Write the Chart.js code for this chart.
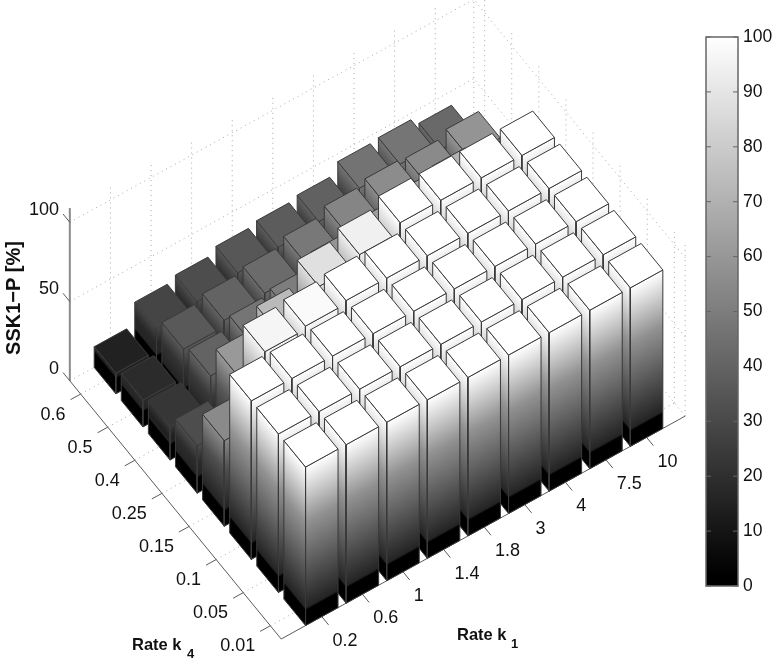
<!DOCTYPE html>
<html lang="en">
<head>
    <meta charset="UTF-8">
    <title>SSK1-P versus rates k1 and k4</title>
    <script src="https://cdn.jsdelivr.net/npm/chart.js"></script>
    <style>
        body { margin: 0; background: #fff; }
        #stage { position: relative; width: 774px; height: 660px; overflow: hidden; }
        #barChart { position: absolute; left: 0; top: 0; }
        #colorbar { position: absolute; left: 690px; top: 0; }
    </style>
</head>
<body>
    <div id="stage">
        <canvas id="barChart" width="774" height="660"></canvas>
        <canvas id="colorbar" width="84" height="660"></canvas>
    </div>
    <script>
        const k1Labels = ['0.2', '0.6', '1', '1.4', '1.8', '3', '4', '7.5', '10'];
        const k4Labels = ['0.01', '0.05', '0.1', '0.15', '0.25', '0.4', '0.5', '0.6'];
        const zTicks = [0, 50, 100];

        // one row per k4 rate, left to right along k1
        const sskAtK4_001 = [100, 100, 100, 100, 100, 100, 100, 100, 100];
        const sskAtK4_005 = [100, 100, 100, 100, 100, 100, 100, 100, 100];
        const sskAtK4_01 = [100, 100, 100, 100, 100, 100, 100, 100, 100];
        const sskAtK4_015 = [54, 96, 98, 100, 100, 100, 100, 100, 100];
        const sskAtK4_025 = [30, 60, 73, 88, 94, 100, 100, 100, 100];
        const sskAtK4_04 = [21, 39, 46, 49, 58, 62, 66, 70, 62];
        const sskAtK4_05 = [17, 35, 39, 42, 47, 52, 55, 54, 58];
        const sskAtK4_06 = [13, 27, 30, 34, 36, 38, 45, 46, 41];
        const sskRows = [sskAtK4_001, sskAtK4_005, sskAtK4_01, sskAtK4_015,
            sskAtK4_025, sskAtK4_04, sskAtK4_05, sskAtK4_06];

        // oblique view of the box, in units of the page-sized plane scales
        const view = { ox: 281.2, oy: 639, ix: 40.6, iy: -22.4, jx: -27.1, jy: -33.1, zy: -1.585 };
        const iMax = 9.95, jMax = 7.8, zTop = 109;
        const barSize = 0.8;

        function project(i, j, z) {
            return {
                x: view.ox + i * view.ix + j * view.jx,
                y: view.oy + i * view.iy + j * view.jy + z * view.zy
            };
        }

        function gray(v) {
            const g = Math.round(Math.min(100, Math.max(0, v)) * 2.55);
            return 'rgb(' + g + ',' + g + ',' + g + ')';
        }

        // side faces run black at the floor up to the bar's own level; bands stay parallel to the floor edge
        function sideGradient(chart, from, along, value) {
            const sx = chart.scales.x, sy = chart.scales.y;
            const a = { x: sx.getPixelForValue(from.x), y: sy.getPixelForValue(from.y) };
            const b = { x: sx.getPixelForValue(from.x + along.x), y: sy.getPixelForValue(from.y + along.y) };
            const top = sy.getPixelForValue(from.y + value * view.zy);
            // options get resolved once before the layout has sized the scales
            if (!Number.isFinite(a.x + a.y + b.x + b.y + top)) return gray(value);
            const ex = b.x - a.x, ey = b.y - a.y;
            const nx = ey, ny = -ex;
            const t = ((top - a.y) * ny) / (nx * nx + ny * ny);
            const g = chart.ctx.createLinearGradient(a.x, a.y, a.x + t * nx, a.y + t * ny);
            g.addColorStop(0, '#000');
            g.addColorStop(Math.min(1, 9.5 / value), '#000');
            g.addColorStop(Math.min(1, 11 / value), gray(Math.min(value, 14)));
            // the faces sit a little under the colormap through the middle of the bar
            if (value > 20) g.addColorStop(0.65, gray(value * 0.57));
            g.addColorStop(1, gray(value));
            return g;
        }

        function polygon(points, fillColor) {
            return {
                data: points.concat([points[0]]),
                fill: 'shape',
                backgroundColor: fillColor,
                borderColor: '#3a3a3a',
                borderWidth: 1,
                borderJoinStyle: 'round',
                pointRadius: 0,
                tension: 0,
                clip: false
            };
        }

        function stroke(points, color, width, dash) {
            return {
                data: points,
                fill: false,
                borderColor: color,
                borderWidth: width,
                borderDash: dash || [],
                pointRadius: 0,
                tension: 0,
                clip: false
            };
        }

        function gridLines() {
            const out = [];
            const dotted = (a, b) => out.push(stroke([a, b], '#a8a8a8', 1, [1, 4]));
            zTicks.forEach((z) => {
                dotted(project(0, jMax, z), project(iMax, jMax, z));
                dotted(project(iMax, 0, z), project(iMax, jMax, z));
            });
            k1Labels.forEach((_, n) => {
                dotted(project(n + 1, 0, 0), project(n + 1, jMax, 0));
                dotted(project(n + 1, jMax, 0), project(n + 1, jMax, zTop));
            });
            k4Labels.forEach((_, n) => {
                dotted(project(0, n + 0.4, 0), project(iMax, n + 0.4, 0));
                dotted(project(iMax, n + 0.4, 0), project(iMax, n + 0.4, zTop));
            });
            dotted(project(iMax, jMax, 0), project(iMax, jMax, zTop));
            dotted(project(iMax, 0, 0), project(iMax, 0, zTop));
            return out;
        }

        function axisLines() {
            const out = [];
            const line = '#5a5a5a';
            out.push(stroke([project(0, jMax, 0), project(0, 0, 0), project(iMax, 0, 0)], line, 1));
            out.push(stroke([project(0, jMax, 0), project(0, jMax, zTop)], '#8a8a8a', 2));
            k1Labels.forEach((_, n) => {
                out.push(stroke([project(n + 1, 0, 0), project(n + 1, -0.25, 0)], line, 1));
            });
            k4Labels.forEach((_, n) => {
                out.push(stroke([project(0, n + 0.4, 0), project(-0.25, n + 0.4, 0)], line, 1));
            });
            zTicks.forEach((z) => {
                out.push(stroke([project(0, jMax, z), project(0, jMax + 0.25, z)], line, 1));
            });
            return out;
        }

        function barFaces() {
            const out = [];
            // far bars first so that nearer ones paint over them
            for (let j = sskRows.length - 1; j >= 0; j--) {
                for (let i = sskRows[j].length - 1; i >= 0; i--) {
                    const v = sskRows[j][i];
                    const i0 = i + 1 - barSize / 2, i1 = i0 + barSize;
                    const j0 = j, j1 = j + barSize;
                    const front = project(i0, j0, 0), left = project(i0, j1, 0), right = project(i1, j0, 0);
                    out.push(polygon([front, left, project(i0, j1, v), project(i0, j0, v)],
                        (c) => sideGradient(c.chart, front, { x: left.x - front.x, y: left.y - front.y }, v)));
                    out.push(polygon([front, right, project(i1, j0, v), project(i0, j0, v)],
                        (c) => sideGradient(c.chart, front, { x: right.x - front.x, y: right.y - front.y }, v)));
                    out.push(polygon([project(i0, j0, v), project(i1, j0, v), project(i1, j1, v), project(i0, j1, v)], gray(v)));
                }
            }
            return out;
        }

        const tickFont = '18px "Liberation Sans", Arial, sans-serif';
        const titleFont = 'bold 16.5px "Liberation Sans", Arial, sans-serif';
        const subFont = 'bold 13px "Liberation Sans", Arial, sans-serif';

        const axisText = {
            id: 'axisText',
            afterDraw(chart) {
                const { ctx, scales } = chart;
                const at = (p) => ({ x: scales.x.getPixelForValue(p.x), y: scales.y.getPixelForValue(p.y) });
                const put = (text, p, dx, dy, align) => {
                    const q = at(p);
                    ctx.textAlign = align;
                    ctx.fillText(text, q.x + dx, q.y + dy);
                };
                ctx.save();
                ctx.fillStyle = '#111';
                ctx.font = tickFont;
                ctx.textBaseline = 'middle';
                k1Labels.forEach((t, n) => put(t, project(n + 1, -0.25, 0), 4, 16, 'left'));
                k4Labels.forEach((t, n) => put(t, project(-0.25, n + 0.4, 0), -5, 15, 'right'));
                zTicks.forEach((z) => put(String(z), project(0, jMax + 0.25, z), -4, -4, 'right'));

                ctx.textBaseline = 'alphabetic';
                ctx.textAlign = 'left';
                ctx.font = titleFont;
                ctx.fillText('Rate k', 132, 650);
                ctx.fillText('Rate k', 457, 640);
                ctx.font = subFont;
                ctx.fillText('4', 187, 658);
                ctx.fillText('1', 511, 648);

                ctx.translate(20, 298);
                ctx.rotate(-Math.PI / 2);
                ctx.font = 'bold 20px "Liberation Sans", Arial, sans-serif';
                ctx.textAlign = 'center';
                ctx.fillText('SSK1\u2212P [%]', 0, 0);
                ctx.restore();
            }
        };

        new Chart(document.getElementById('barChart'), {
            type: 'line',
            data: { datasets: gridLines().concat(axisLines(), barFaces()).reverse() },
            options: {
                responsive: false,
                animation: false,
                layout: { padding: 0 },
                events: [],
                scales: {
                    x: { type: 'linear', min: 0, max: 774, display: false },
                    y: { type: 'linear', min: 0, max: 660, reverse: true, display: false }
                },
                plugins: { legend: { display: false }, tooltip: { enabled: false } }
            },
            plugins: [axisText]
        });

        const colorbarFrame = {
            id: 'colorbarFrame',
            afterDraw(chart) {
                const { ctx, chartArea: a, scales } = chart;
                ctx.save();
                ctx.strokeStyle = '#666';
                ctx.lineWidth = 1.5;
                ctx.strokeRect(a.left, a.top, a.right - a.left, a.bottom - a.top);
                ctx.lineWidth = 1;
                scales.y.ticks.forEach((t) => {
                    const y = scales.y.getPixelForValue(t.value);
                    ctx.beginPath();
                    ctx.moveTo(a.left, y);
                    ctx.lineTo(a.left + 5, y);
                    ctx.moveTo(a.right, y);
                    ctx.lineTo(a.right - 5, y);
                    ctx.stroke();
                });
                ctx.restore();
            }
        };

        new Chart(document.getElementById('colorbar'), {
            type: 'bar',
            data: {
                labels: ['SSK1-P'],
                datasets: [{
                    data: [100],
                    barPercentage: 1,
                    categoryPercentage: 1,
                    backgroundColor: (c) => {
                        const y = c.chart.scales.y;
                        const from = y.getPixelForValue(0), to = y.getPixelForValue(100);
                        if (!Number.isFinite(from + to)) return '#888';
                        const g = c.chart.ctx.createLinearGradient(0, from, 0, to);
                        g.addColorStop(0, '#000');
                        g.addColorStop(0.02, '#000');
                        g.addColorStop(1, '#fff');
                        return g;
                    }
                }]
            },
            options: {
                responsive: false,
                animation: false,
                events: [],
                layout: { padding: { left: 16, top: 37, bottom: 74 } },
                scales: {
                    x: { display: false },
                    y: {
                        position: 'right',
                        min: 0,
                        max: 100,
                        afterFit: (s) => { s.width = 36; },
                        border: { display: false },
                        grid: { display: false, drawTicks: false },
                        ticks: {
                            stepSize: 10,
                            padding: 5,
                            color: '#111',
                            font: { family: '"Liberation Sans"', size: 17.5 }
                        }
                    }
                },
                plugins: { legend: { display: false }, tooltip: { enabled: false } }
            },
            plugins: [colorbarFrame]
        });
    </script>
</body>
</html>
